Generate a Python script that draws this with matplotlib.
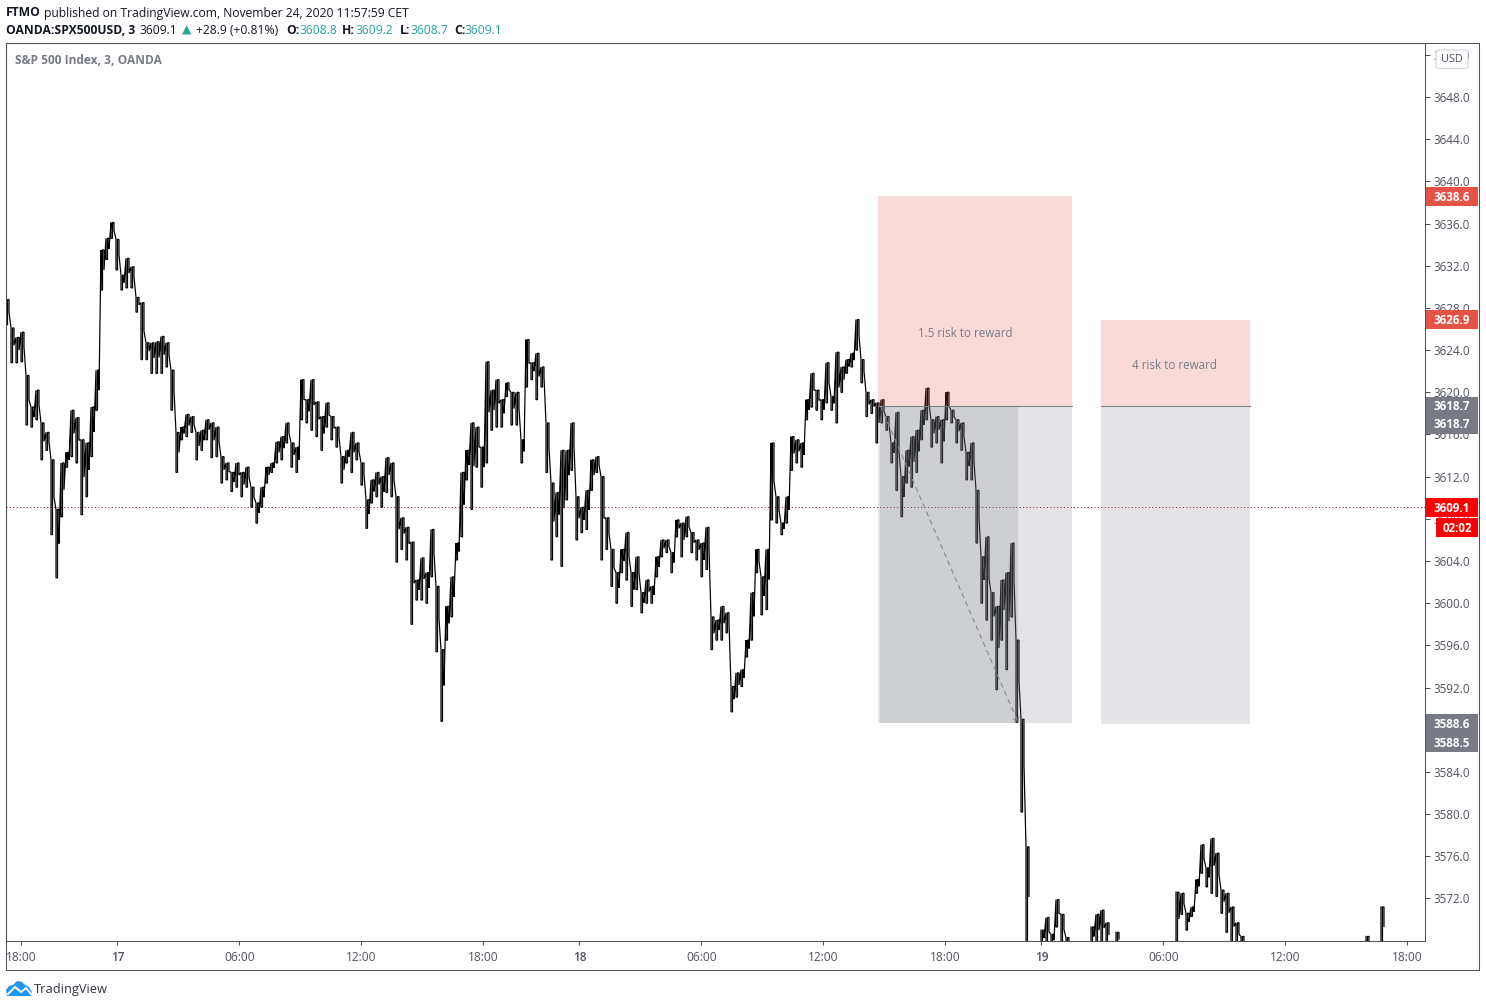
import numpy as np
import matplotlib
matplotlib.use("Agg")
import matplotlib.pyplot as plt
from matplotlib.patches import Rectangle, Polygon, FancyBboxPatch
from matplotlib.transforms import blended_transform_factory, ScaledTranslation

plt.rcParams['font.family'] = ['Open Sans', 'DejaVu Sans']

# ---- data: high / low per 15-minute column (prices)
highs = [
 3628.8,3626.1,3625.2,3625.7,3621.6,3618.6,3620.2,3617.1,3616.2,3613.6,
 3608.9,3613.3,3614.3,3618.3,3617.6,3615.5,3615.2,3618.6,3622.1,3633.5,
 3634.6,3636.1,3634.5,3631.1,3632.7,3631.9,3629.0,3628.5,3624.7,3624.7,
 3624.8,3625.3,3624.7,3622.1,3616.2,3616.7,3617.9,3617.7,3616.2,3616.4,
 3617.4,3617.1,3616.7,3613.9,3613.3,3612.4,3613.3,3612.4,3612.9,3611.0,
 3609.5,3611.0,3612.9,3613.3,3615.3,3615.8,3617.1,3615.2,3614.8,3621.2,
 3619.3,3621.2,3619.1,3617.7,3619.0,3617.7,3616.7,3613.9,3614.5,3616.2,
 3615.2,3613.3,3609.8,3611.7,3612.4,3612.0,3613.8,3613.3,3610.1,3608.1,
 3607.2,3605.8,3602.2,3604.3,3602.9,3607.0,3601.6,3595.6,3599.7,3602.5,
 3605.7,3612.4,3614.5,3617.1,3616.7,3614.8,3622.9,3620.2,3621.2,3619.3,
 3620.9,3620.0,3620.0,3615.5,3625.0,3622.8,3623.7,3622.4,3617.1,3611.4,
 3610.5,3614.5,3614.5,3617.1,3610.1,3609.1,3610.7,3613.6,3613.9,3612.0,
 3608.1,3605.1,3602.9,3605.1,3606.7,3602.9,3604.4,3601.0,3602.2,3601.6,
 3604.4,3606.0,3606.0,3604.8,3607.9,3607.6,3608.2,3606.7,3606.0,3605.7,
 3607.2,3598.7,3598.4,3599.7,3599.1,3592.1,3593.4,3593.7,3596.5,3601.0,
 3605.1,3602.5,3605.1,3615.2,3610.1,3607.6,3610.1,3615.8,3615.5,3615.2,
 3619.3,3621.8,3620.2,3619.3,3622.8,3619.6,3623.8,3622.4,3623.1,3623.7,
 3626.9,3623.1,3620.0,3619.3,3619.0,3619.3,3617.7,3615.2,3618.1,3612.0,
 3614.5,3615.8,3616.4,3618.3,3620.4,3617.4,3617.7,3617.4,3620.0,3618.3,
 3617.4,3617.1,3614.3,3615.2,3610.7,3604.4,3606.3,3601.0,3599.7,3602.2,
 3602.9,3605.7,3596.5,3589.0,3576.9]
lows = [
 3626.4,3622.8,3622.8,3622.9,3616.9,3616.7,3617.4,3613.6,3614.5,3606.5,
 3602.4,3608.2,3612.9,3613.9,3613.3,3608.4,3610.1,3613.9,3618.3,3629.7,
 3632.6,3634.6,3631.6,3629.7,3629.9,3629.9,3627.6,3623.1,3623.1,3621.8,
 3621.8,3621.8,3622.4,3618.3,3612.4,3615.5,3615.8,3616.2,3613.6,3614.5,
 3615.5,3613.8,3613.9,3611.4,3611.7,3610.6,3611.0,3610.1,3611.0,3609.1,
 3607.6,3609.1,3611.4,3612.4,3613.3,3613.6,3615.2,3612.9,3612.4,3617.4,
 3617.1,3616.4,3615.8,3614.5,3616.7,3615.5,3614.8,3611.4,3613.3,3612.4,
 3613.6,3611.2,3607.1,3609.5,3610.1,3609.1,3610.5,3610.1,3603.9,3605.1,
 3604.1,3598.0,3600.3,3600.3,3600.0,3602.5,3595.4,3588.8,3596.5,3598.7,
 3604.1,3606.3,3611.7,3608.9,3612.9,3611.0,3613.3,3616.4,3616.7,3616.7,
 3619.6,3616.9,3616.9,3613.3,3620.5,3621.2,3619.3,3620.5,3612.4,3604.1,
 3606.3,3603.5,3609.8,3612.6,3606.0,3606.7,3607.0,3610.7,3612.4,3604.1,
 3605.1,3601.6,3600.0,3602.9,3602.2,3599.7,3601.3,3599.1,3600.0,3600.0,
 3602.5,3604.4,3604.8,3602.9,3606.3,3604.4,3606.3,3604.8,3604.1,3602.5,
 3603.2,3595.6,3596.5,3596.5,3597.2,3589.7,3591.1,3592.1,3594.9,3596.5,
 3602.9,3598.9,3599.4,3607.9,3607.6,3606.5,3607.6,3612.6,3613.3,3612.9,
 3617.4,3618.6,3618.3,3617.4,3619.0,3618.3,3617.1,3620.0,3621.8,3622.4,
 3624.0,3620.9,3617.7,3618.0,3615.2,3617.1,3616.4,3613.3,3610.7,3608.2,
 3611.4,3611.0,3612.4,3615.5,3617.4,3614.8,3615.2,3613.3,3617.4,3617.1,
 3615.2,3614.5,3611.7,3611.7,3605.7,3600.0,3598.4,3596.5,3591.8,3596.5,
 3593.7,3598.7,3588.7,3580.2,3567.5]

# columns that poke above the lower chart edge after the fall
late_columns = [207,208,209,210,211,212,217,218,219,220,222,
                234,235,236,237,238,239,240,241,242,243,244,245,246,247,272,275]
late_highs = [3569.0,3570.2,3568.6,3571.9,3570.5,3568.3,3569.3,3570.5,3570.9,3569.7,3568.8,
              3572.6,3572.5,3570.6,3571.2,3573.8,3577.1,3574.9,3577.7,3576.3,3572.8,3572.5,3571.2,3569.7,3568.4,3568.4,3571.2]
late_lows = [3567.5,3567.5,3567.5,3569.3,3567.6,3567.5,3567.5,3567.5,3567.5,3567.5,3567.5,
             3567.5,3570.5,3569.0,3570.3,3572.5,3574.4,3573.1,3572.5,3572.2,3570.6,3568.8,3567.5,3567.5,3567.5,3567.5,3567.5]

price_ticks = [3572+4*i for i in range(21)]
time_positions = [2.7,22,46.4,70.8,95.2,114.4,138.8,163.2,187.6,206.8,231.2,255.6,280]
time_labels = ['18:00','17','06:00','12:00','18:00','18','06:00','12:00','18:00','19','06:00','12:00','18:00']

entry, stop1, stop2, target1, target2 = 3618.7, 3638.6, 3626.9, 3588.6, 3588.5
last_price = 3609.1
# position tools, in column units
box1 = (174.1, 213.0)
box1_dark = (174.6, 202.2)
box2 = (218.8, 248.6)
arrow_start, arrow_end = (174.6, 3618.7), (202.2, 3588.6)

W, H = 1486, 1007
fig = plt.figure(figsize=(W/100, H/100), dpi=100, facecolor='white')
ax = fig.add_axes([6.0/W, 1-941.0/H, 1419/W, 898/H])
ax.set_xlim(-0.3, 283.5)
ax.set_ylim(3567.97, 3653.12)
LINE = '#50535e'
for s in ax.spines.values():
    s.set_color(LINE); s.set_linewidth(0.75)

# outer frame
fig.add_artist(Rectangle((6.0/W, 1-970.0/H), 1473/W, 927/H, fill=False, ec=LINE, lw=0.75,
                         transform=fig.transFigure))

def zig(cols, hi, lo):
    xs, ys = [], []
    prev = None
    for c, h, l in zip(cols, hi, lo):
        if prev is not None and c != prev + 1:
            xs.append(np.nan); ys.append(np.nan)
        xs += [c-0.3, c-0.3, c, c, c+0.3, c+0.3]
        ys += [h, l, l, h, h, l+(h-l)*0.5]
        prev = c
    return xs, ys

bar_lw = 0.88
xs, ys = zig(list(range(len(highs))), highs, lows)
ax.plot(xs, ys, color='black', lw=bar_lw, solid_joinstyle='miter', zorder=2)
xs, ys = zig(late_columns, late_highs, late_lows)
ax.plot(xs, ys, color='black', lw=bar_lw, solid_joinstyle='miter', zorder=2)

# last-price line
ax.axhline(last_price, color='#8c0f0f', lw=0.72, ls=(0, (1, 2.4)), zorder=1.5)

# position tools
RED = (0.90, 0.29, 0.25, 0.2)
GREY = (120/255, 123/255, 134/255, 0.2)
def box(x0, x1, y0, y1, c):
    ax.add_patch(Rectangle((x0, y0), x1-x0, y1-y0, fc=c, ec='none', zorder=3))
box(box1[0], box1[1], entry, stop1, RED)
box(box1[0], box1[1], target1, entry, GREY)
box(box1_dark[0], box1_dark[1], target1, entry, GREY)
box(box2[0], box2[1], entry, stop2, RED)
box(box2[0], box2[1], target2, entry, GREY)
ax.plot(box1, [entry, entry], color='#787b86', lw=0.75, zorder=3.5)
ax.plot(box2, [entry, entry], color='#787b86', lw=0.75, zorder=3.5)
ax.annotate('', xy=arrow_end, xytext=arrow_start, zorder=4,
            arrowprops=dict(arrowstyle='->,head_length=0.35,head_width=0.2', color='#8a8c95',
                            lw=0.8, ls=(0, (4, 4)), shrinkA=0, shrinkB=0))
ax.text((box1[0]+box1[1])/2-1.9, 3625.6, '1.5 risk to reward', ha='center', va='center',
        fontsize=8.4, color='#787b86', zorder=5)
ax.text((box2[0]+box2[1])/2-0.3, 3622.5, '4 risk to reward', ha='center', va='center',
        fontsize=8.4, color='#787b86', zorder=5)

# axes
ax.yaxis.tick_right()
ax.set_yticks(price_ticks)
ax.set_yticklabels([f'{v:.1f}' for v in price_ticks], fontsize=8.4, color='#50535e')
ax.tick_params(axis='y', length=3.6, width=0.75, color=LINE, pad=2.4)
ax.set_xticks(time_positions)
ax.set_xticklabels(time_labels, fontsize=8.6, color='#50535e')
for lab in ax.get_xticklabels():
    if lab.get_text() in ('17', '18', '19'):
        lab.set_fontweight('semibold')
ax.tick_params(axis='x', length=3.2, width=0.75, color=LINE, pad=4)

# scale labels
xtr = blended_transform_factory(ax.transAxes, ax.transData)
def axis_label(value, text, color, off_px=0, x0=1426, x1=1478):
    off = ScaledTranslation(0, -off_px/100, fig.dpi_scale_trans)
    text_off = ScaledTranslation(0, -(off_px+1)/100, fig.dpi_scale_trans)
    pxa = lambda p: (p-6.0)/1419
    r = Rectangle((pxa(x0), value-0.92), pxa(x1)-pxa(x0), 1.8, fc=color, ec='none',
                  transform=xtr+off, clip_on=False, zorder=6)
    ax.add_patch(r)
    ax.text(pxa((x0+x1)/2), value, text, color='white', fontsize=8.4, fontweight='bold',
            ha='center', va='center', transform=xtr+text_off, clip_on=False, zorder=7)

axis_label(stop1, f'{stop1:.1f}', '#e45345')
axis_label(stop2, f'{stop2:.1f}', '#e45345')
axis_label(entry, f'{entry:.1f}', '#787b86')
axis_label(entry, f'{entry:.1f}', '#787b86', off_px=18)
axis_label(target1, f'{target1:.1f}', '#787b86')
axis_label(target2, f'{target2:.1f}', '#787b86', off_px=18)
axis_label(last_price, f'{last_price:.1f}', '#ff0000')
axis_label(last_price, '02:02', '#ff0000', off_px=20, x0=1436)

# USD badge
fig.add_artist(FancyBboxPatch((1436/W, 1-68.5/H), 32/W, 18.5/H,
               boxstyle='round,pad=0,rounding_size=0.002', fc='white', ec='#d1d4dc', lw=0.8,
               transform=fig.transFigure, zorder=8))
fig.text(1452/W, 1-59/H, 'USD', fontsize=7.8, color='#50535e', ha='center', va='center', zorder=9)

# header
DK = '#131722'
GR = '#26a69a'
def put(x, y, s, c=DK, w='normal'):
    fig.text(x/W, 1-y/H, s, color=c, fontweight=w, fontsize=8.75, ha='left', va='center')

put(6, 13, 'FTMO', DK, 'bold')
put(44, 13, 'published on TradingView.com, November 24, 2020 11:57:59 CET')
put(6, 30, 'OANDA:SPX500USD, 3', DK, 'bold')
put(140, 30, '3609.1')
put(182, 30, '▲', GR)
put(196, 30, '+28.9 (+0.81%)')
put(286, 30, 'O:', DK, 'bold')
put(299, 30, '3608.8', GR)
put(342, 30, 'H:', DK, 'bold')
put(356, 30, '3609.2', GR)
put(400, 30, 'L:', DK, 'bold')
put(411, 30, '3608.7', GR)
put(454, 30, 'C:', DK, 'bold')
put(465, 30, '3609.1', GR)
fig.text(15/W, 1-60.5/H, 'S&P 500 Index, 3, OANDA', fontsize=8.6, fontweight='bold',
         color='#787b86', ha='left', va='center')

# TradingView logo
def pxs(points):
    return [(x/W, 1-y/H) for x, y in points]
fig.add_artist(Polygon(pxs([(7,996),(6,990),(9,986),(13,985),(17,981),(22,982),(25,985),(29,987),
                            (32,992),(31,996)]), fc='#2196f3', ec='none', transform=fig.transFigure))
fig.add_artist(plt.Line2D(*zip(*pxs([(8,994),(15,987),(21,992),(26,988),(31,994)])),
                          color='white', lw=1.4, transform=fig.transFigure))
fig.text(34/W, 1-989/H, 'TradingView', fontsize=9.3, color='#333740', ha='left', va='center')

fig.savefig('out.png', dpi=100, facecolor='white')
